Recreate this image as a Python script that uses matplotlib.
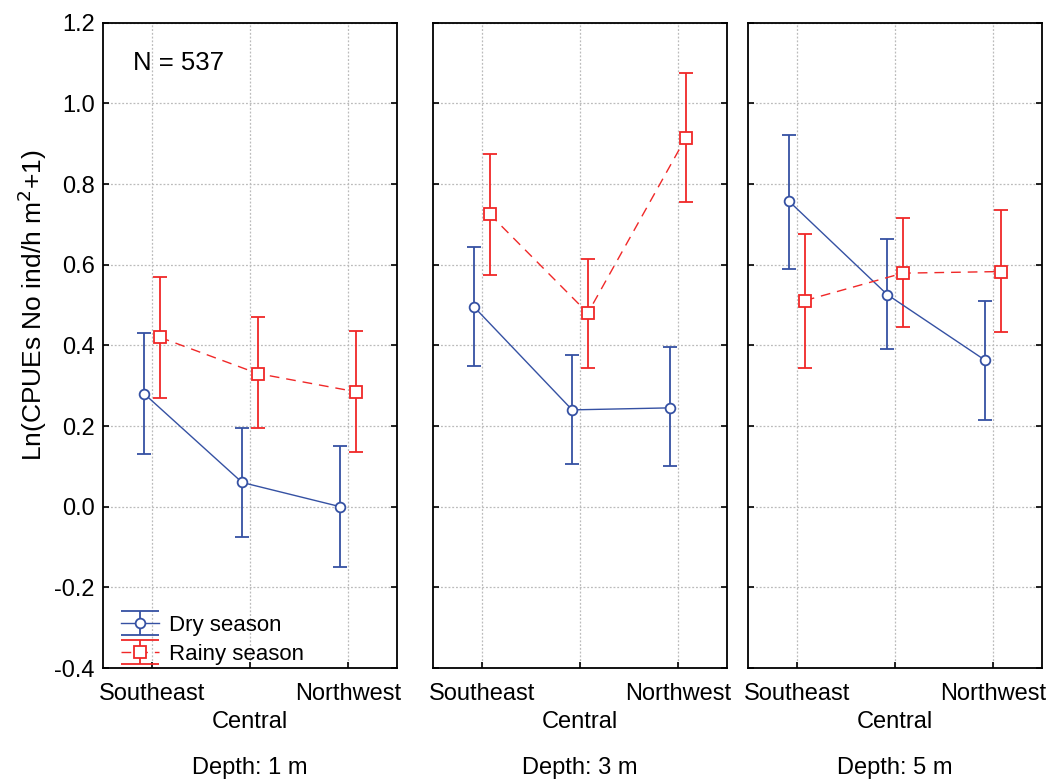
import numpy as np
import matplotlib
matplotlib.use("Agg")
import matplotlib.pyplot as plt
from matplotlib.container import ErrorbarContainer
from matplotlib.legend_handler import HandlerErrorbar

plt.rcParams['font.family'] = ['Liberation Sans', 'DejaVu Sans']

# categories and panels
regions = ["Southeast", "Central", "Northwest"]
depths = ["Depth: 1 m", "Depth: 3 m", "Depth: 5 m"]

# means and confidence limits per depth panel
dry_mean = [[0.28, 0.06, 0.0], [0.495, 0.24, 0.245], [0.757, 0.526, 0.363]]
dry_low = [[0.13, -0.075, -0.15], [0.35, 0.105, 0.10], [0.59, 0.39, 0.215]]
dry_high = [[0.43, 0.195, 0.15], [0.645, 0.375, 0.395], [0.921, 0.663, 0.511]]

rainy_mean = [[0.42, 0.33, 0.285], [0.725, 0.48, 0.915], [0.511, 0.579, 0.583]]
rainy_low = [[0.27, 0.195, 0.135], [0.575, 0.345, 0.755], [0.345, 0.445, 0.433]]
rainy_high = [[0.57, 0.47, 0.435], [0.875, 0.615, 1.075], [0.677, 0.715, 0.735]]

n_label = "N = 537"

blue = "#3551a3"
red = "#f02828"


class WideCapHandler(HandlerErrorbar):
    # legend caps stretched over the whole handle, like the original figure
    def create_artists(self, legend, orig_handle, xdescent, ydescent,
                       width, height, fontsize, trans):
        artists = super().create_artists(legend, orig_handle, xdescent, ydescent,
                                         width, height, fontsize, trans)
        for a in artists:
            if hasattr(a, 'get_marker') and a.get_marker() == '_':
                a.set_markersize(width)
        return artists


fig = plt.figure(figsize=(10.53, 7.82), dpi=100)
lefts = [103, 433, 748]
W, H = 1053.0, 782.0
axes = []
for i, lx in enumerate(lefts):
    ax = fig.add_axes([lx / W, 1 - 668 / H, 294 / W, 645.3 / H])
    axes.append(ax)

x = np.arange(len(regions))
for i, ax in enumerate(axes):
    dm = np.array(dry_mean[i])
    rm = np.array(rainy_mean[i])
    derr = [dm - np.array(dry_low[i]), np.array(dry_high[i]) - dm]
    rerr = [rm - np.array(rainy_low[i]), np.array(rainy_high[i]) - rm]

    ax.errorbar(x - 0.08, dm, yerr=derr, color=blue, lw=1.0, ls='-',
                marker='o', ms=7, mfc='white', mec=blue, mew=1.3,
                capsize=5, elinewidth=1.3, capthick=1.3, label="Dry season",
                zorder=3)
    ax.errorbar(x + 0.08, rm, yerr=rerr, color=red, lw=1.0, ls=(0, (7, 5)),
                marker='s', ms=8, mfc='white', mec=red, mew=1.3,
                capsize=5, elinewidth=1.3, capthick=1.3, label="Rainy season",
                zorder=3)

    ax.set_xlim(-0.5, 2.5)
    ax.set_ylim(-0.4, 1.2)
    ax.set_yticks(np.arange(-0.4, 1.21, 0.2))
    ax.set_xticks(x)
    ax.set_xticklabels([regions[0], "\n" + regions[1], regions[2]],
                       fontsize=17, linespacing=1.35)
    ax.grid(True, color='#bbbbbb', ls=(0, (1.5, 1.5)), lw=0.9)
    ax.tick_params(axis='both', direction='in', length=4, width=1.2)
    ax.tick_params(axis='y', right=True, labelsize=17, pad=6)
    ax.tick_params(axis='x', pad=10.5)
    if i == 0:
        ax.set_yticklabels(["%.1f" % v for v in np.arange(-0.4, 1.21, 0.2)])
    else:
        ax.tick_params(axis='y', labelleft=False)
    for s in ax.spines.values():
        s.set_linewidth(1.3)
    fig.text((lefts[i] + 147) / W, 1 - 768 / H, depths[i],
             ha='center', va='center', fontsize=17)

axes[0].text(0.102, 0.938, n_label, transform=axes[0].transAxes,
             ha='left', va='center', fontsize=18.5)
axes[0].legend(loc='lower left', bbox_to_anchor=(0.05, 0.0), frameon=False,
               fontsize=16, handlelength=1.7, handletextpad=0.45,
               borderaxespad=0.05, borderpad=0.1, labelspacing=0.36,
               handler_map={ErrorbarContainer: WideCapHandler(yerr_size=0.55)})

fig.text(32 / W, 1 - 305 / H, r"Ln(CPUEs No ind/h m$^2$+1)", rotation=90,
         ha='center', va='center', fontsize=19)

fig.savefig("out.png", dpi=100)
